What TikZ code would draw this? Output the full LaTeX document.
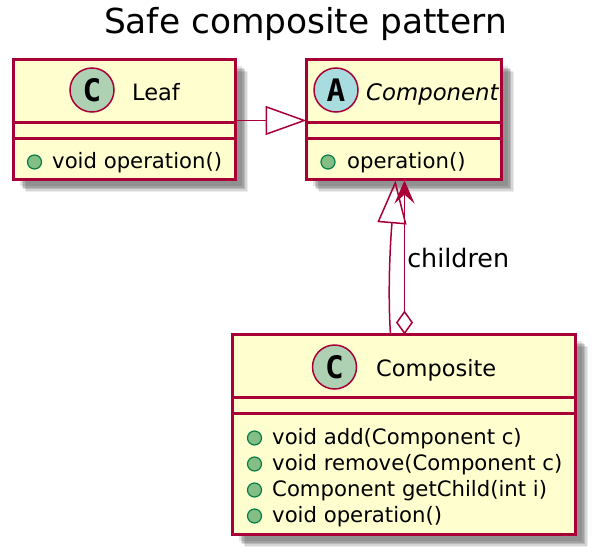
\documentclass[tikz,border=0pt]{standalone}
\usepackage{fontspec}
\setmainfont{DejaVu Sans}
\newfontfamily\spotfont{DejaVu Sans Mono}
\usetikzlibrary{arrows.meta,shadows}

\definecolor{umlred}{HTML}{A80036}
\definecolor{umlfill}{HTML}{FEFECE}
\definecolor{spotclass}{HTML}{ADD1B2}
\definecolor{spotabstract}{HTML}{A9DCDF}
\definecolor{dotfill}{HTML}{84BE84}
\definecolor{dotline}{HTML}{038048}

\tikzset{
    classbox/.style={draw=umlred, line width=3pt, fill=umlfill, outer sep=0pt, inner sep=0pt,
        drop shadow={shadow xshift=12.5pt, shadow yshift=-12.5pt, fill=black, opacity=0.07},
        drop shadow={shadow xshift=11pt, shadow yshift=-11pt, fill=black, opacity=0.10},
        drop shadow={shadow xshift=9.5pt, shadow yshift=-9.5pt, fill=black, opacity=0.13},
        drop shadow={shadow xshift=8pt, shadow yshift=-8pt, fill=black, opacity=0.13},
        drop shadow={shadow xshift=6.5pt, shadow yshift=-6.5pt, fill=black, opacity=0.10}},
    classrule/.style={draw=umlred, line width=2.6pt},
    spot/.style={circle, draw=umlred, line width=1.5pt, minimum size=44pt, inner sep=0pt,
        font=\spotfont\bfseries\fontsize{31}{31}\selectfont},
    classname/.style={anchor=base west, inner sep=0pt, font=\fontsize{22.5}{26}\selectfont},
    member/.style={anchor=base west, inner sep=0pt, font=\fontsize{21.2}{25}\selectfont},
    memberdot/.style={circle, draw=dotline, fill=dotfill, line width=1.2pt, minimum size=14pt, inner sep=0pt},
    umlline/.style={draw=umlred, line width=1.5pt}
}

\begin{document}
\begin{tikzpicture}[x=1pt, y=-1pt]
    \useasboundingbox (0,0) rectangle (596,554);

    \node[anchor=base, inner sep=0pt, font=\fontsize{34.4}{40}\selectfont] (title) at (305.5,33) {Safe composite pattern};

    % class boxes
    \node[classbox, minimum width=222pt, minimum height=120pt] (leaf) at (124.5,119.5) {};
    \node[classbox, minimum width=195pt, minimum height=120pt] (component) at (404,119.5) {};
    \node[classbox, minimum width=343pt, minimum height=200pt] (composite) at (404,434.5) {};

    \foreach \cls in {leaf, component, composite} {
        \draw[classrule] ([yshift=-63pt]\cls.north west) -- ([yshift=-63pt]\cls.north east);
        \draw[classrule] ([yshift=-79pt]\cls.north west) -- ([yshift=-79pt]\cls.north east);
    }

    % headers
    \node[spot, fill=spotclass] (leafspot) at (92,90) {C};
    \node[classname] (leafname) at (132,100) {Leaf};
    \node[spot, fill=spotabstract] (componentspot) at (336,90) {A};
    \node[classname, font=\itshape\fontsize{22.8}{26}\selectfont] (componentname) at (366,100) {Component};
    \node[spot, fill=spotclass] (compositespot) at (334.5,367) {C};
    \node[classname] (compositename) at (376,376) {Composite};

    % members
    \node[memberdot] (leafdot) at (34.5,162) {};
    \node[member] (leafop) at (52,168.5) {void operation()};
    \node[memberdot] (componentdot) at (328,162) {};
    \node[member] (componentop) at (347,168.5) {operation()};
    \foreach \y/\name/\txt in {438/add/void add(Component c), 464/remove/void remove(Component c),
        490/child/Component getChild(int i), 516/op/void operation()} {
        \node[memberdot] (\name dot) at (254.5,\y) {};
        \node[member] (\name text) at (272,\y+6.5) {\txt};
    }

    % relations
    \draw[umlline, -{Triangle[open, length=41pt, width=29pt, line width=1.5pt]}]
        ([yshift=-1pt]leaf.east) -- ([yshift=-1pt]component.west);
    \draw[umlline, -{Triangle[open, length=43pt, width=29pt, line width=1.5pt]}]
        ([xshift=-13.5pt]composite.north) .. controls +(-3,-45) and +(-5,60) .. ([xshift=-8.5pt,yshift=-1pt]component.south);
    \draw[umlline, {Stealth[length=23pt, width=20pt, inset=9pt]}-{Diamond[open, length=24pt, width=17pt, line width=1.5pt]}]
        ([xshift=0.5pt,yshift=-1pt]component.south) -- ([xshift=0.5pt]composite.north)
        node[pos=0.5, anchor=base west, inner sep=0pt, font=\fontsize{25.4}{30}\selectfont, xshift=2pt, yshift=-10pt] (childrenlabel) {children};
\end{tikzpicture}
\end{document}
